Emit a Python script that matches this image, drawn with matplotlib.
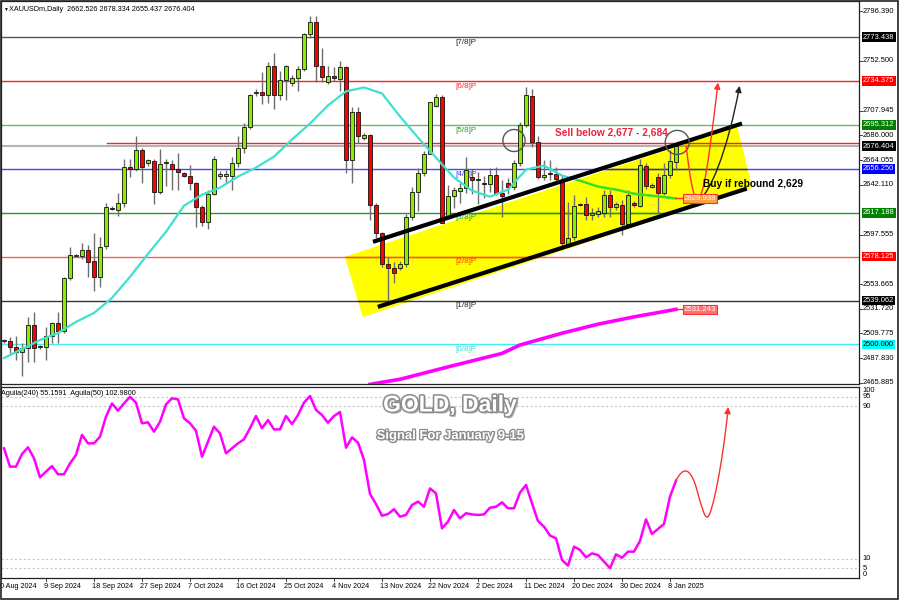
import matplotlib
matplotlib.use("Agg")
import matplotlib.pyplot as plt
from matplotlib.patches import Polygon, Ellipse, FancyArrowPatch, Rectangle
from matplotlib.path import Path
from matplotlib import patheffects as pe
from matplotlib.colors import to_rgb
from matplotlib.transforms import blended_transform_factory

plt.rcParams["font.family"] = ["Liberation Sans", "DejaVu Sans"]

# daily candles, 1 Sep 2024 .. 9 Jan 2025 (broker has Sunday bars)
opens = [2503.0, 2503.0, 2497.7, 2493.2, 2496.8, 2517.3, 2498.0, 2498.0, 2507.5, 2519.0,
         2512.0, 2559.0, 2578.5, 2579.0, 2584.0, 2574.3, 2560.0, 2587.7, 2621.5, 2620.0,
         2626.0, 2658.2, 2656.4, 2673.4, 2661.0, 2663.5, 2635.9, 2661.0, 2660.9, 2656.4,
         2652.8, 2650.2, 2643.9, 2622.6, 2609.1, 2634.1, 2650.2, 2649.4, 2650.2, 2661.8,
         2675.1, 2693.8, 2723.5, 2724.2, 2721.5, 2747.4, 2721.5, 2734.9, 2733.0, 2736.7,
         2744.7, 2775.9, 2786.6, 2747.4, 2733.1, 2738.5, 2735.8, 2746.5, 2664.4, 2707.2,
         2684.0, 2686.0, 2624.4, 2599.3, 2571.7, 2568.1, 2568.1, 2571.7, 2613.6, 2635.9,
         2652.8, 2669.8, 2711.8, 2719.8, 2613.6, 2632.4, 2636.9, 2639.5, 2649.3, 2646.0,
         2643.3, 2643.0, 2651.0, 2635.0, 2643.9, 2640.4, 2661.8, 2695.6, 2720.6, 2680.5,
         2649.3, 2652.3, 2652.0, 2646.6, 2588.6, 2595.8, 2624.2, 2625.2, 2615.4, 2616.3,
         2617.2, 2633.3, 2622.6, 2624.4, 2607.3, 2626.0, 2623.5, 2659.1, 2640.4, 2649.3,
         2635.0, 2651.0, 2662.5]
highs = [2505.0, 2506.6, 2507.5, 2501.2, 2524.4, 2528.9, 2499.5, 2515.5, 2520.0, 2529.0,
         2560.0, 2586.8, 2580.0, 2590.4, 2588.6, 2599.3, 2595.8, 2626.1, 2623.0, 2635.0,
         2665.3, 2665.3, 2685.8, 2675.1, 2665.0, 2665.3, 2674.2, 2665.0, 2664.4, 2670.7,
         2653.5, 2660.0, 2644.5, 2624.4, 2637.7, 2668.0, 2654.0, 2655.5, 2667.1, 2685.0,
         2697.4, 2723.0, 2727.0, 2742.0, 2751.0, 2758.9, 2743.0, 2749.0, 2740.0, 2747.4,
         2777.0, 2792.0, 2792.0, 2763.4, 2747.4, 2747.0, 2751.8, 2747.4, 2710.8, 2710.8,
         2688.0, 2687.5, 2626.1, 2600.2, 2578.0, 2573.5, 2574.0, 2616.0, 2640.4, 2657.3,
         2672.4, 2716.0, 2722.4, 2721.5, 2642.0, 2640.4, 2644.0, 2667.1, 2656.4, 2653.0,
         2650.0, 2657.0, 2658.0, 2646.6, 2648.4, 2664.4, 2698.3, 2728.6, 2726.9, 2685.0,
         2664.4, 2664.0, 2657.5, 2651.0, 2627.0, 2633.0, 2626.0, 2631.5, 2621.7, 2622.6,
         2637.7, 2637.7, 2627.0, 2628.8, 2637.7, 2628.0, 2665.3, 2661.8, 2644.0, 2652.8,
         2661.8, 2673.4, 2678.3]
lows = [2501.0, 2492.4, 2486.1, 2471.9, 2484.3, 2484.3, 2496.0, 2486.0, 2501.0, 2501.0,
        2510.0, 2557.4, 2577.5, 2576.0, 2560.0, 2547.6, 2551.2, 2585.0, 2620.0, 2614.5,
        2622.6, 2649.3, 2654.6, 2643.9, 2659.0, 2625.2, 2634.1, 2641.0, 2637.7, 2637.7,
        2649.0, 2637.7, 2604.7, 2605.6, 2602.9, 2633.0, 2647.0, 2643.9, 2637.7, 2658.0,
        2670.7, 2692.0, 2721.0, 2713.5, 2715.0, 2709.0, 2717.0, 2717.0, 2730.0, 2725.0,
        2743.0, 2772.3, 2733.1, 2733.1, 2731.3, 2734.0, 2725.1, 2652.8, 2643.9, 2679.6,
        2682.0, 2611.0, 2594.9, 2569.0, 2537.8, 2554.7, 2566.0, 2569.0, 2611.0, 2619.0,
        2650.0, 2669.0, 2711.0, 2608.0, 2612.0, 2621.7, 2626.0, 2635.0, 2634.0, 2625.0,
        2630.0, 2636.0, 2633.0, 2613.6, 2634.0, 2637.7, 2659.0, 2693.8, 2676.0, 2647.5,
        2646.6, 2646.0, 2644.0, 2587.7, 2587.7, 2593.0, 2623.0, 2611.0, 2611.0, 2613.6,
        2613.6, 2613.6, 2620.0, 2597.5, 2604.7, 2622.0, 2622.0, 2638.6, 2639.0, 2617.2,
        2633.0, 2648.4, 2655.4]
closes = [2503.5, 2497.7, 2493.2, 2496.9, 2517.3, 2496.8, 2498.3, 2507.5, 2519.0, 2512.0,
          2559.2, 2579.7, 2579.0, 2584.0, 2573.5, 2560.0, 2586.8, 2622.6, 2620.8, 2626.0,
          2658.2, 2656.4, 2673.4, 2658.2, 2664.0, 2635.9, 2660.9, 2661.3, 2656.4, 2653.7,
          2650.2, 2643.9, 2622.6, 2609.1, 2634.1, 2665.3, 2651.9, 2651.9, 2661.8, 2675.1,
          2693.8, 2721.5, 2724.2, 2721.5, 2747.4, 2721.5, 2734.9, 2747.4, 2737.0, 2744.7,
          2775.9, 2786.6, 2747.4, 2737.6, 2738.5, 2736.7, 2746.5, 2664.4, 2707.2, 2685.0,
          2686.7, 2624.4, 2599.3, 2571.7, 2568.1, 2563.7, 2571.7, 2613.6, 2635.9, 2652.8,
          2669.8, 2715.3, 2719.8, 2608.2, 2632.4, 2637.7, 2639.5, 2655.5, 2646.6, 2646.5,
          2643.0, 2651.0, 2635.0, 2632.4, 2640.4, 2661.8, 2695.6, 2721.5, 2680.5, 2649.3,
          2651.0, 2652.0, 2647.5, 2590.4, 2594.9, 2623.5, 2624.6, 2615.4, 2617.2, 2618.9,
          2633.3, 2622.6, 2625.2, 2607.3, 2633.3, 2624.4, 2660.0, 2641.3, 2642.2, 2635.0,
          2651.0, 2663.5, 2676.4]

# moving average (cyan) read at every third bar
ma_idx = [0, 3, 6, 9, 12, 15, 18, 21, 24, 27, 30, 33, 36, 39, 42, 45, 48, 51, 54, 57,
          60, 63, 66, 69, 72, 75, 78, 81, 84, 87, 90, 93, 96, 99, 102, 105, 108, 111, 112]
ma_val = [2487.9, 2495.9, 2503.9, 2510.2, 2520.0, 2528.0, 2541.4, 2560.1, 2580.6, 2600.2,
          2623.4, 2633.2, 2639.5, 2649.3, 2657.3, 2667.1, 2682.3, 2696.5, 2712.6, 2725.1,
          2728.6, 2723.3, 2702.8, 2684.0, 2666.2, 2648.4, 2636.8, 2631.4, 2637.7, 2655.5,
          2659.1, 2650.2, 2645.7, 2640.4, 2637.7, 2634.1, 2632.3, 2630.5, 2629.9]

# slow moving average (magenta), visible part
slow_idx = [61, 66, 74, 83, 86, 93, 99, 105, 112]
slow_val = [2464.5, 2469.0, 2480.0, 2492.0, 2499.5, 2510.0, 2518.0, 2524.5, 2531.2]

# Aguila(240) oscillator, one value per bar
aguila = [67.9, 58.3, 58.3, 64.9, 68.4, 62.7, 52.7, 55.7, 58.6, 54.3,
          54.3, 60.0, 64.4, 74.9, 70.5, 70.5, 74.0, 84.5, 91.4, 87.6,
          91.4, 94.9, 91.8, 81.0, 81.5, 76.6, 81.8, 90.9, 94.1, 93.5,
          83.6, 81.0, 77.1, 63.5, 71.4, 79.2, 75.7, 65.3, 67.9, 70.5,
          72.6, 78.4, 84.8, 78.4, 82.7, 77.8, 77.8, 84.8, 80.6, 85.3,
          91.8, 95.3, 88.0, 85.3, 81.3, 84.8, 86.9, 68.2, 73.6, 70.9,
          61.8, 44.0, 38.7, 32.6, 33.5, 36.0, 32.1, 33.0, 38.2, 40.0,
          37.3, 46.9, 44.3, 26.0, 29.5, 35.6, 31.2, 33.9, 33.3, 33.0,
          33.3, 36.8, 37.3, 39.6, 36.5, 36.5, 44.7, 48.7, 39.1, 29.8,
          26.9, 22.2, 20.8, 9.4, 6.5, 16.4, 14.7, 10.8, 12.9, 12.0,
          8.6, 5.1, 12.4, 10.6, 13.8, 13.8, 19.4, 30.7, 23.0, 25.7,
          28.3, 42.6, 51.0]

date_labels = ["30 Aug 2024", "9 Sep 2024", "18 Sep 2024", "27 Sep 2024", "7 Oct 2024",
               "16 Oct 2024", "25 Oct 2024", "4 Nov 2024", "13 Nov 2024", "22 Nov 2024",
               "2 Dec 2024", "11 Dec 2024", "20 Dec 2024", "30 Dec 2024", "8 Jan 2025"]
date_idx = [-1, 7, 15, 23, 31, 39, 47, 55, 63, 71, 79, 87, 95, 103, 111]

# Murrey math levels
levels = [2773.438, 2734.375, 2695.312, 2656.250, 2617.188, 2578.125, 2539.062, 2500.000]
level_names = ["[7/8]P", "[6/8]P", "[5/8]P", "[4/8]P", "[3/8]P", "[2/8]P", "[1/8]P", "[0/8]P"]
level_colors = ["#555555", "#ff2020", "#66bb66", "#4646ff", "#1e9e1e", "#ff5a5a", "#333333", "#40f0f0"]
label_colors = ["#222222", "#ff2020", "#2e9e2e", "#3030ff", "#1e9e1e", "#ff3a00", "#222222", "#20e0e0"]
box_faces = ["#000000", "#ff0000", "#008000", "#0000ff", "#008000", "#ff0000", "#000000", "#00ffff"]
last_price = 2676.404
sell_line = 2679.3

price_ticks = [2796.390, 2752.500, 2707.945, 2686.000, 2664.055, 2642.110,
               2597.555, 2553.665, 2531.720, 2509.775, 2487.830, 2465.885]
osc_ticks = [100, 95, 90, 10, 5, 0]


def tint(c):
    # colour as seen through the yellow channel (multiply blend)
    r, g, b = to_rgb(c)
    return (r, g, 0.0)


fig = plt.figure(figsize=(9, 6), dpi=100)
ax = fig.add_axes([1 / 900, 1 - 384 / 600, 858 / 900, 383 / 600])
axo = fig.add_axes([1 / 900, 1 - 578 / 600, 858 / 900, 191 / 600])
for a in (ax, axo):
    a.set_xlim(-0.5, 142.5)
    a.set_xticks([])
    a.set_yticks([])
    for s in a.spines.values():
        s.set_color("#222222")
        s.set_linewidth(0.9)
ax.set_ylim(2464.8, 2805.5)
axo.set_ylim(0, 100)

# yellow channel
chan = Polygon([(56.8, 2577.9), (59.8, 2524.4), (124.7, 2639.5), (122.2, 2693.8)],
               closed=True, facecolor="#ffff00", edgecolor="none", zorder=1)
ax.add_patch(chan)

# horizontal levels
for lv, col, name, lcol in zip(levels, level_colors, level_names, label_colors):
    ax.axhline(lv, color=col, lw=1, zorder=1.5)
    t = ax.axhline(lv, color=tint(col), lw=1, zorder=1.6)
    t.set_clip_path(chan)
    ax.text(75.2, lv - 1.6, name, color=lcol, fontsize=5.8, va="top", ha="left", zorder=2)
ax.axhline(last_price, color="#b4b4b4", lw=1.5, zorder=1.5)
t = ax.axhline(last_price, color=tint("#b4b4b4"), lw=1.5, zorder=1.6)
t.set_clip_path(chan)
ax.plot([17.2, 142.5], [sell_line, sell_line], color="#ff2020", lw=1, zorder=1.7)

# candles
for i in range(len(opens)):
    o, h, l, c = opens[i], highs[i], lows[i], closes[i]
    ax.vlines(i, l, h, color="#6e6e6e", lw=1, zorder=2.5)
    col = "#88ee00" if c >= o else "#ff0000"
    hgt = max(abs(c - o), 0.9)
    ax.bar(i, hgt, bottom=min(o, c), width=0.7, color=col, edgecolor="#111111",
           linewidth=0.6, zorder=3)

# moving averages
ax.plot(ma_idx, ma_val, color="#40e0d0", lw=1.6, zorder=3.5)
g, = ax.plot(ma_idx, ma_val, color=tint("#40e0d0"), lw=1.6, zorder=3.6)
g.set_clip_path(chan)
ax.plot(slow_idx, slow_val, color="#ff00ff", lw=2.6, zorder=3.5)

# channel lines
ax.plot([61.5, 123.0], [2591.3, 2696.5], color="black", lw=3, zorder=4, solid_capstyle="butt")
ax.plot([62.3, 123.8], [2533.4, 2638.6], color="black", lw=3, zorder=4, solid_capstyle="butt")

# circles
ax.add_patch(Ellipse((85.0, 2681.4), 3.7, 19.6, fill=False, edgecolor="#555555", lw=1, zorder=5))
ax.add_patch(Ellipse((112.2, 2679.7), 4.0, 21.4, fill=False, edgecolor="#555555", lw=1, zorder=5))

# forecast paths
red_path = Path([(113.7, 2676), (114.3, 2650), (114.8, 2630), (115.6, 2630),
                 (116.5, 2630), (117.3, 2655), (119.0, 2733)],
                [Path.MOVETO] + [Path.CURVE4] * 6)
ax.add_patch(FancyArrowPatch(path=red_path, arrowstyle="-|>", mutation_scale=9,
                             color="#ff3030", lw=1, zorder=5))
blk_path = Path([(116.0, 2630), (117.6, 2634), (120.6, 2672), (122.6, 2730)],
                [Path.MOVETO] + [Path.CURVE4] * 3)
ax.add_patch(FancyArrowPatch(path=blk_path, arrowstyle="-|>", mutation_scale=9,
                             color="#222222", lw=1, zorder=5))

# end-of-line value boxes
ax.plot([112, 113.2], [2629.9, 2629.9], color="#ff3030", lw=1, zorder=5)
ax.text(113.3, 2629.9, "2629.938", fontsize=5.6, color="white", va="center", ha="left", zorder=6,
        bbox=dict(boxstyle="square,pad=0.15", fc="#ffa040", ec="#ff3030", lw=0.8))
ax.plot([112, 113.2], [2531.2, 2531.2], color="#ff3030", lw=1, zorder=5)
ax.text(113.3, 2531.2, "2531.243", fontsize=5.6, color="white", va="center", ha="left", zorder=6,
        bbox=dict(boxstyle="square,pad=0.15", fc="#ff7070", ec="#ff3030", lw=0.8))

# annotations
ax.text(91.8, 2688.6, "Sell below 2,677 - 2,684", color="#ee2244", fontsize=7.3,
        fontweight="bold", va="center", ha="left", zorder=6)
ax.text(116.5, 2643.1, "Buy if rebound 2,629", color="black", fontsize=7.3,
        fontweight="bold", va="center", ha="left", zorder=6)

# header
ax.text(0.002, 0.985, "\u25bc", transform=ax.transAxes, fontsize=3.5, va="top", ha="left")
ax.text(0.009, 0.988, "XAUUSDm,Daily  2662.526 2678.334 2655.437 2676.404",
        transform=ax.transAxes, fontsize=5.2, va="top", ha="left")

# right price scale
tr = blended_transform_factory(ax.transAxes, ax.transData)
for p in price_ticks:
    ax.text(1.0045, p, f"{p:.3f}", transform=tr, fontsize=5.4, va="center", ha="left",
            clip_on=False)
    ax.plot([1.0, 1.003], [p, p], transform=tr, color="#222222", lw=0.6, clip_on=False)
box_vals = levels[:3] + [last_price] + levels[3:]
box_cols = box_faces[:3] + ["#000000"] + box_faces[3:]
for p, fc in zip(box_vals, box_cols):
    ax.text(1.0045, p, f"{p:.3f}", transform=tr, fontsize=5.4, va="center", ha="left",
            color="black" if fc == "#00ffff" else "white", clip_on=False, zorder=7,
            bbox=dict(boxstyle="square,pad=0.18", fc=fc, ec="none"))

# oscillator panel
for v in (95, 90, 10, 5):
    axo.axhline(v, color="#c8c8c8", lw=0.8, ls=(0, (2, 2)), zorder=1)
axo.plot(range(len(aguila)), aguila, color="#ff00ff", lw=1.8, zorder=3)
osc_path = Path([(112, 51.0), (113.2, 58.5), (114.4, 58.0), (115.4, 47.0),
                 (116.4, 36.0), (116.8, 31.0), (117.3, 32.0),
                 (118.0, 33.0), (119.8, 60.0), (120.7, 89.5)],
                [Path.MOVETO] + [Path.CURVE4] * 9)
axo.add_patch(FancyArrowPatch(path=osc_path, arrowstyle="-|>", mutation_scale=9,
                              color="#ff3030", lw=1, zorder=4))
tro = blended_transform_factory(axo.transAxes, axo.transData)
for v in osc_ticks:
    va = "top" if v == 100 else ("bottom" if v == 0 else "center")
    axo.text(1.0045, v, str(v), transform=tro, fontsize=5.4, va=va, ha="left", clip_on=False)
axo.text(0.0, 0.985, "Aguila(240) 55.1591  Aguila(50) 102.9800", transform=axo.transAxes,
         fontsize=5.2, va="top", ha="left", zorder=5)

outline = [pe.withSimplePatchShadow(offset=(1.5, -1.5), shadow_rgbFace="#777777", alpha=0.6),
           pe.withStroke(linewidth=2.2, foreground="#8a8a8a")]
axo.text(74.3, 90.6, "GOLD, Daily", color="white", fontsize=16.5, fontweight="bold",
         ha="center", va="center", zorder=6, path_effects=outline)
axo.text(74.3, 74.3, "Signal For January 9-15", color="white", fontsize=9.4, fontweight="bold",
         ha="center", va="center", zorder=6,
         path_effects=[pe.withSimplePatchShadow(offset=(1, -1), shadow_rgbFace="#777777", alpha=0.6),
                       pe.withStroke(linewidth=1.8, foreground="#8a8a8a")])

# date axis
trd = blended_transform_factory(axo.transData, fig.transFigure)
for lab, i in zip(date_labels, date_idx):
    axo.text(i - 0.35, 1 - 586 / 600, lab, transform=trd, fontsize=5.2, va="center", ha="left",
             clip_on=False)
    axo.plot([i, i], [1 - 578 / 600, 1 - 581 / 600], transform=trd, color="#222222", lw=0.6,
             clip_on=False)

# outer frame
fig.add_artist(Rectangle((0.001, 0.002), 0.997, 0.997, transform=fig.transFigure,
                         fill=False, edgecolor="#222222", lw=1.2))

fig.savefig("out.png", dpi=100)
